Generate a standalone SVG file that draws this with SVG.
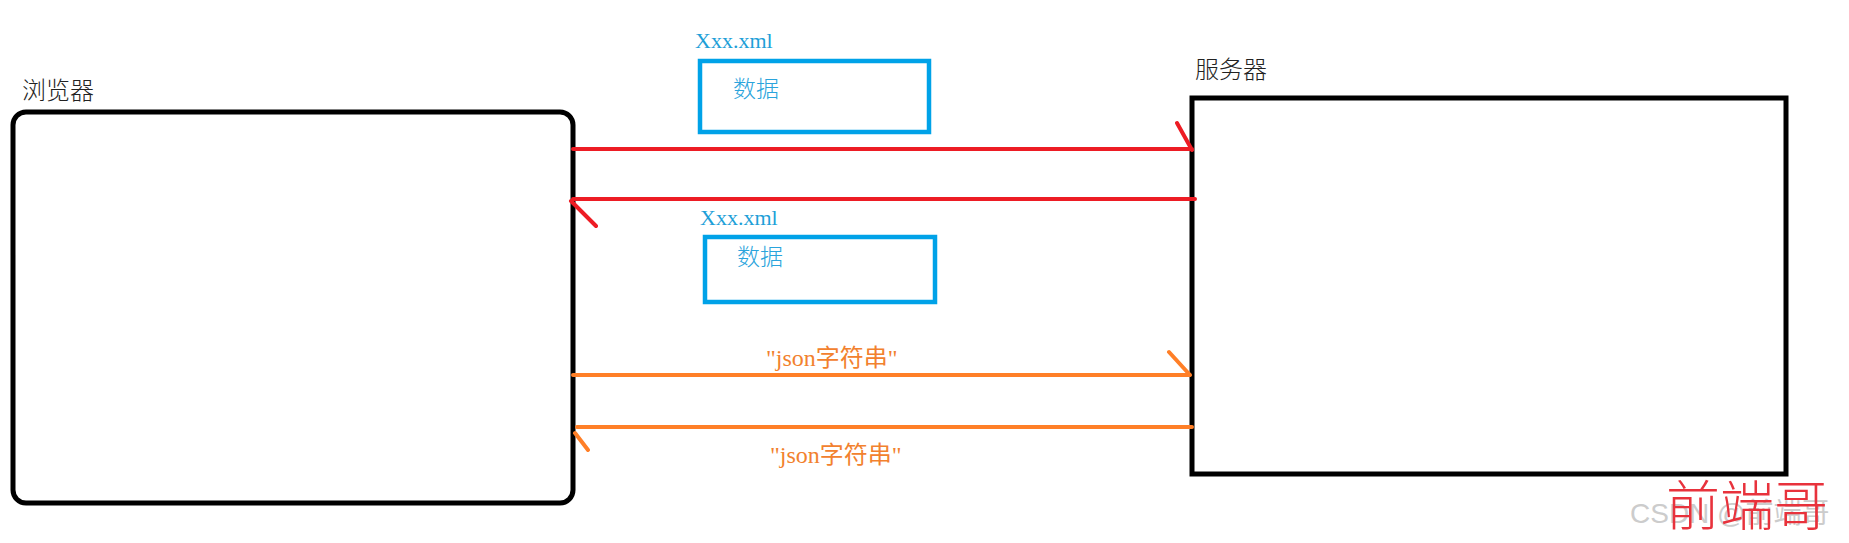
<svg xmlns="http://www.w3.org/2000/svg" width="1849" height="543" viewBox="0 0 1849 543">
<style>
.box{fill:none;stroke:#000;stroke-width:5}
.blue{fill:none;stroke:#00A2E8;stroke-width:4.5}
.red{fill:none;stroke:#ED1C24;stroke-width:4;stroke-linecap:round}
.orange{fill:none;stroke:#FF7F27;stroke-width:4;stroke-linecap:round}
.lbl{font-family:"Noto Sans CJK SC","Liberation Sans",sans-serif;font-size:24px;font-weight:300;fill:#222}
.xml{font-family:"Liberation Serif","Noto Sans CJK SC",serif;font-size:22px;fill:#1E9FD8}
.data{font-family:"Noto Sans CJK SC",sans-serif;font-size:23px;font-weight:300;fill:#2AA4DC}
.json{font-family:"Liberation Serif","Noto Sans CJK SC",serif;font-size:24px;fill:#F2812E}
.wm1{font-family:"Liberation Sans","Noto Sans CJK SC",sans-serif;font-size:28px;fill:#ccc}
.wm2{font-family:"Noto Sans CJK SC",serif;font-size:54px;font-weight:300;fill:#E8323C}
</style>
<rect width="1849" height="543" fill="#fff"/>
<g id="browser">
<rect class="box" x="13" y="112" width="560" height="391" rx="13"/>
<text class="lbl" x="22" y="99">浏览器</text>
</g>
<g id="server">
<rect class="box" x="1192" y="98" width="594" height="376"/>
<text class="lbl" x="1195" y="78">服务器</text>
</g>
<g id="data1">
<text class="xml" x="695" y="48">Xxx.xml</text>
<rect class="blue" x="700" y="61" width="229" height="71"/>
<text class="data" x="733" y="97">数据</text>
</g>
<g id="data2">
<text class="xml" x="700" y="225">Xxx.xml</text>
<rect class="blue" x="705" y="237" width="230" height="65"/>
<text class="data" x="737" y="265">数据</text>
</g>
<g id="connectors">
<path class="red" d="M573 149H1192M1177 123L1192 150"/>
<path class="red" d="M1195 199H573M571 201L596 226"/>
<path class="orange" d="M573 375H1190M1169 352L1190 375"/>
<path class="orange" d="M1192 427H577M575 433L588 450"/>
<text class="json" x="766" y="366">"json字符串"</text>
<text class="json" x="770" y="463">"json字符串"</text>
</g>
<g id="watermark">
<text class="wm1" x="1630" y="523">CSDN @前端哥</text>
<text class="wm2" x="1666" y="526">前端哥</text>
</g>
</svg>
